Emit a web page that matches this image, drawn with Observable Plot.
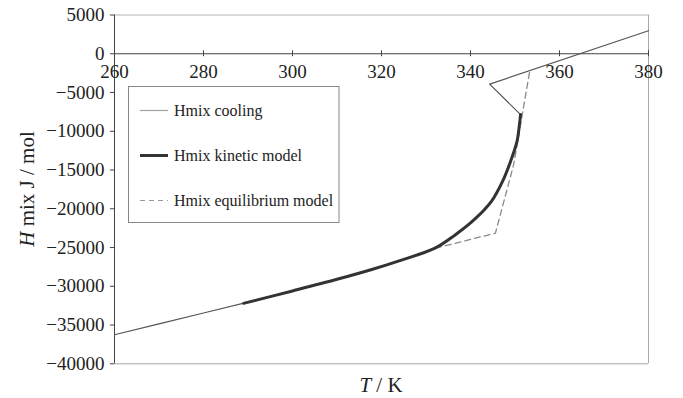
<!DOCTYPE html>
<html>
<head>
<meta charset="utf-8">
<script src="https://cdn.jsdelivr.net/npm/d3@7"></script>
<script src="https://cdn.jsdelivr.net/npm/@observablehq/plot@0.6"></script>
<style>
  body { margin: 0; background: #fff; }
  #chart { width: 683px; height: 398px; }
</style>
</head>
<body>
<div id="chart"></div>
<script>
// Axis ticks
const xTicks = [260, 280, 300, 320, 340, 360, 380];
const yTicks = [5000, 0, -5000, -10000, -15000, -20000, -25000, -30000, -35000, -40000];

// Series names
const seriesNames = ["Hmix cooling", "Hmix kinetic model", "Hmix equilibrium model"];

// Measured enthalpy of mixing on cooling (T in K, H in J/mol)
const coolingT = [260, 270, 280, 290, 300, 310, 318, 324.3, 331.9, 336.4, 340.9, 344.7, 347.2, 349.0, 350.45, 351.0, 351.25, 344.3, 380];
const coolingH = [-36250, -34850, -33450, -32050, -30600, -29100, -27800, -26650, -25120, -23440, -21380, -19050, -16470, -13890, -11310, -9120, -7850, -3920, 2970];

// Kinetic model
const kineticT = [289, 300, 310, 318, 324.3, 331.9, 336.4, 340.9, 344.7, 347.2, 349.0, 350.45, 351.0, 351.25];
const kineticH = [-32200, -30600, -29100, -27800, -26650, -25120, -23440, -21380, -19050, -16470, -13890, -11310, -9120, -7850];

// Equilibrium model
const equilT = [289, 300, 310, 318, 324.3, 331.9, 345.6, 349.7, 353.3];
const equilH = [-32200, -30600, -29100, -27800, -26650, -25120, -23150, -14300, -2270];

const rows = (T, H) => T.map((t, i) => ({T: t, H: H[i]}));
const cooling = rows(coolingT, coolingH);
const kinetic = rows(kineticT, kineticH);
const equil = rows(equilT, equilH);

const serif = "'Liberation Serif', 'Times New Roman', 'DejaVu Serif', serif";
const fmt = d3.format("d");

const chart = Plot.plot({
  width: 683,
  height: 398,
  marginLeft: 114,
  marginRight: 35,
  marginTop: 14.5,
  marginBottom: 34.7,
  x: {domain: [260, 380], axis: null},
  y: {domain: [-40000, 5000]},
  style: {fontFamily: serif, background: "#fff", color: "#222"},
  marks: [
    // plot-area border
    Plot.ruleY([yTicks[0]], {stroke: "#b5b5b5"}),
    Plot.ruleY([yTicks[yTicks.length - 1]], {stroke: "#a8a8a8"}),
    Plot.ruleX([xTicks[xTicks.length - 1]], {stroke: "#a8a8a8"}),
    // value axis
    Plot.ruleX([xTicks[0]], {stroke: "#444"}),
    Plot.axisY({ticks: yTicks, tickSize: 4, tickPadding: 6, tickFormat: fmt, fontSize: 19, label: null, stroke: "#444"}),
    // temperature axis drawn through H = 0
    Plot.ruleY([0], {stroke: "#444"}),
    Plot.ruleX(xTicks, {x: d => d, y1: 0, y2: 0, insetTop: -3, insetBottom: -3, stroke: "#444"}),
    Plot.text(xTicks, {x: d => d, y: 0, dy: 18, text: d => String(d), fontSize: 19, fill: "#222"}),
    // series
    Plot.line(equil, {x: "T", y: "H", stroke: "#8a8a8a", strokeWidth: 1.3, strokeDasharray: "6,4"}),
    Plot.line(cooling, {x: "T", y: "H", stroke: "#555", strokeWidth: 1.2}),
    Plot.line(kinetic, {x: "T", y: "H", stroke: "#333", strokeWidth: 3, curve: "catmull-rom"})
  ]
});

document.getElementById("chart").appendChild(chart);

const svg = d3.select(chart);

// y-axis title
const yt = svg.append("text")
  .attr("transform", "translate(27,189) rotate(-90)")
  .attr("text-anchor", "middle")
  .attr("dy", "0.35em")
  .attr("font-family", serif)
  .attr("font-size", 21)
  .attr("fill", "#222");
yt.append("tspan").attr("font-style", "italic").text("H");
yt.append("tspan").text(" mix J / mol");

// x-axis title
const xt = svg.append("text")
  .attr("x", 381)
  .attr("y", 391.5)
  .attr("text-anchor", "middle")
  .attr("font-family", serif)
  .attr("font-size", 21)
  .attr("fill", "#222");
xt.append("tspan").attr("font-style", "italic").text("T");
xt.append("tspan").text(" / K");

// legend
const lg = svg.append("g")
  .attr("font-family", serif)
  .attr("font-size", 16)
  .attr("fill", "#222")
  .attr("text-anchor", "start");
lg.append("rect")
  .attr("x", 128.5).attr("y", 86.5).attr("width", 210.5).attr("height", 136)
  .attr("fill", "#fff").attr("stroke", "#888");
const swatches = [
  {stroke: "#a0a0a0", width: 1.2, dash: null},
  {stroke: "#333", width: 3, dash: null},
  {stroke: "#999", width: 1.2, dash: "5,4"}
];
seriesNames.forEach((name, i) => {
  const y = 110.5 + i * 45;
  const s = swatches[i];
  const l = lg.append("line")
    .attr("x1", 140).attr("x2", 168).attr("y1", y).attr("y2", y)
    .attr("stroke", s.stroke).attr("stroke-width", s.width);
  if (s.dash) l.attr("stroke-dasharray", s.dash);
  lg.append("text").attr("x", 174).attr("y", y + 5).text(name);
});
</script>
</body>
</html>
